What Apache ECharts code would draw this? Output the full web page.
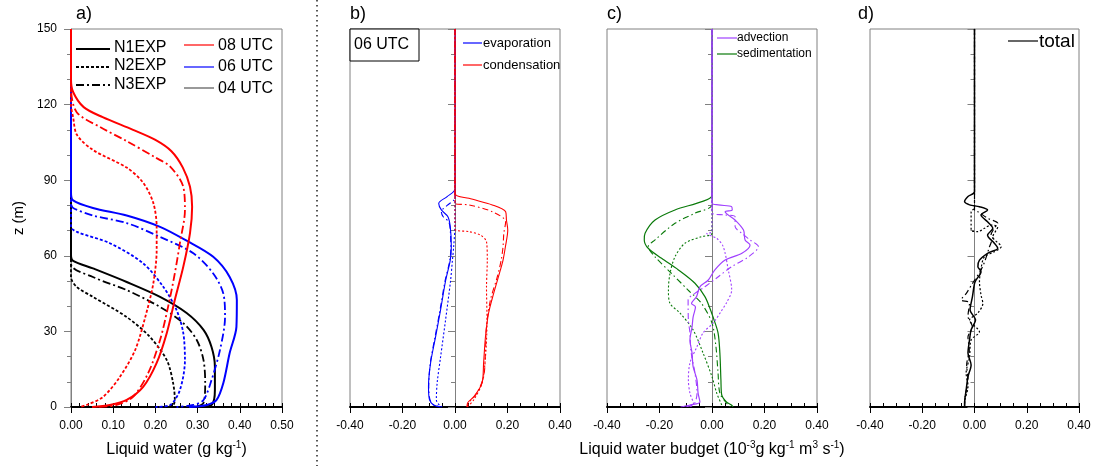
<!DOCTYPE html>
<html>
<head>
<meta charset="utf-8">
<script src="https://cdn.jsdelivr.net/npm/echarts@6/dist/echarts.min.js"></script>
<style>html,body{margin:0;padding:0;background:#fff}#c{width:1097px;height:466px}</style>
</head>
<body>
<div id="c"></div>
<script>
// ---------- DATA : [value, z(m)] ----------
// a) liquid water (g/kg)
const lw08N1 = [[0,150],[0,130],[0.005,125],[0.03,119],[0.075,115],[0.147,110],[0.20,106],[0.238,101.5],[0.265,95],[0.282,87.4],[0.287,79.5],[0.282,69],[0.266,55.6],[0.246,42.5],[0.227,29.4],[0.203,17.5],[0.171,8],[0.132,2.8],[0.092,0.8],[0.05,0]];
const lw08N2 = [[0,150],[0,120],[0.005,115],[0.014,108],[0.052,102],[0.132,95],[0.171,89],[0.195,81],[0.203,71.5],[0.203,62.3],[0.195,49],[0.176,35.7],[0.152,22.6],[0.116,12],[0.076,4],[0.037,0.8],[0.02,0]];
const lw08N3 = [[0,150],[0,127],[0.0135,117],[0.07,111],[0.132,105.5],[0.20,99],[0.235,95.4],[0.266,87.4],[0.270,78.2],[0.258,65],[0.246,53],[0.230,39.7],[0.211,26.6],[0.183,13.5],[0.147,4],[0.108,0.8],[0.06,0]];
const lw06N1 = [[0,150],[0,85],[0.005,82],[0.052,79],[0.132,76],[0.211,71.5],[0.274,66],[0.337,59.6],[0.376,51.6],[0.393,42.5],[0.392,31.8],[0.376,21.4],[0.361,9.5],[0.345,2.8],[0.322,0.8],[0.28,0]];
const lw06N2 = [[0,150],[0,71.5],[0.014,69.5],[0.092,65],[0.171,57],[0.219,47.6],[0.25,38.5],[0.266,29.4],[0.27,18.6],[0.258,6.7],[0.235,0.8],[0.2,0]];
const lw06N3 = [[0,150],[0,81],[0.005,79],[0.052,76],[0.132,73],[0.211,67.5],[0.29,61],[0.337,53],[0.361,45],[0.365,35.7],[0.353,22.6],[0.333,10.7],[0.314,2.8],[0.29,0.8],[0.25,0]];
const lw04N1 = [[0,150],[0,60.3],[0.005,58],[0.052,55],[0.132,49.6],[0.211,43.7],[0.274,37.3],[0.314,30.6],[0.333,23.8],[0.341,16],[0.341,6.7],[0.333,0.8],[0.30,0]];
const lw04N2 = [[0,150],[0,51.6],[0.014,47.6],[0.052,43.7],[0.132,35.7],[0.187,27.8],[0.227,18.6],[0.242,9.5],[0.246,2.8],[0.242,0.8],[0.22,0]];
const lw04N3 = [[0,150],[0,57],[0.052,51.6],[0.132,46.4],[0.211,39.7],[0.266,33.3],[0.298,26.6],[0.314,18.6],[0.318,9.5],[0.314,1.6],[0.29,0]];
// b) evaporation / condensation
const evN1 = [[0,150],[0,86.5],[-0.03,83.5],[-0.062,80.8],[-0.052,78.2],[-0.027,75.5],[-0.018,71.5],[-0.014,63.6],[-0.018,58.3],[-0.036,50],[-0.055,38.5],[-0.074,27.8],[-0.093,17.5],[-0.101,8],[-0.097,2.8],[-0.082,0.8],[-0.055,0]];
const evN2 = [[0,150],[0,73],[-0.005,63.6],[-0.01,58],[-0.017,50],[-0.036,34.5],[-0.055,19.8],[-0.068,9.5],[-0.071,2.8],[-0.06,0.8],[-0.049,0]];
const evN3 = [[0,150],[0,83],[-0.005,82],[-0.03,80],[-0.052,77.5],[-0.045,75.5],[-0.024,73.5],[-0.018,70.2],[-0.016,63],[-0.02,58],[-0.038,50],[-0.057,38.5],[-0.076,27.8],[-0.094,17.5],[-0.1,8],[-0.095,2.8],[-0.08,0.8],[-0.055,0]];
const coN1 = [[0,150],[0,84.8],[0.053,82.8],[0.142,80.2],[0.193,77.5],[0.196,74.2],[0.201,70.2],[0.192,63.6],[0.183,58.3],[0.173,54.4],[0.147,45],[0.128,37.3],[0.116,27.8],[0.109,17.5],[0.103,9.5],[0.071,4],[0.048,1.6],[0.046,0]];
const coN2 = [[0,150],[0,70.5],[0.053,69.6],[0.097,68.2],[0.12,65.6],[0.123,58.3],[0.120,47.6],[0.122,34.5],[0.116,19.8],[0.103,9.5],[0.071,2.8],[0.046,0]];
const coN3 = [[0,150],[0,80.8],[0.053,80.2],[0.142,77.5],[0.193,73.5],[0.186,68.9],[0.183,63.6],[0.176,58.3],[0.161,51.6],[0.135,42.5],[0.12,32],[0.116,22],[0.109,12],[0.08,5],[0.052,1.6],[0.046,0]];
// c) advection / sedimentation
const adN1 = [[0,150],[0,81],[0.024,80.2],[0.075,79.5],[0.077,78.2],[0.05,77.5],[0.088,74.2],[0.12,70.2],[0.126,66.3],[0.145,64.3],[0.114,61],[0.05,58.3],[0.011,54.4],[-0.014,50.4],[-0.046,47.7],[-0.059,43.8],[-0.078,41.1],[-0.063,39.7],[-0.072,35.7],[-0.076,31.8],[-0.084,26.6],[-0.076,21.4],[-0.072,16],[-0.057,10.7],[-0.053,5.5],[-0.046,2],[-0.084,0.8],[-0.12,0]];
const adN2 = [[0,150],[0,69.5],[-0.02,68.9],[0.018,66.9],[0.043,63.6],[0.062,54.4],[0.075,46.4],[0.056,41.5],[0.035,38],[0.004,33.3],[-0.034,29.4],[-0.057,24],[-0.084,17.5],[-0.09,10.7],[-0.084,5.5],[-0.07,1],[-0.09,0]];
const adN3 = [[0,150],[0,77],[0.05,76.2],[0.088,75.5],[0.088,71.6],[0.114,68.9],[0.145,66.3],[0.177,63.6],[0.139,59.6],[0.075,55.7],[0.024,51.7],[-0.027,47.7],[-0.065,45.1],[-0.091,42.5],[-0.09,34.5],[-0.084,29.4],[-0.08,22],[-0.065,13.5],[-0.057,5.5],[-0.07,1],[-0.11,0]];
const seN1 = [[0,150],[0,84],[-0.039,81.5],[-0.141,78.2],[-0.217,74.2],[-0.255,68.9],[-0.258,66.3],[-0.243,63],[-0.192,59],[-0.128,54.4],[-0.065,49.1],[-0.027,43.8],[-0.008,39.2],[0.004,35.7],[0.023,29.4],[0.03,21.4],[0.034,10.7],[0.037,4.8],[0.055,2],[0.074,0.8],[0.08,0]];
const seN2 = [[0,150],[0,69],[-0.04,67.6],[-0.103,65],[-0.141,59.6],[-0.16,53],[-0.166,46.4],[-0.16,41.1],[-0.122,37.3],[-0.072,30.6],[-0.034,21.4],[0,12],[0.018,5.5],[0.037,0.8],[0.04,0]];
const seN3 = [[0,150],[0,80.5],[-0.065,76.9],[-0.141,72.9],[-0.217,66.3],[-0.243,63.6],[-0.217,59.6],[-0.154,53],[-0.091,46.4],[-0.04,41.1],[0,33.3],[0.015,24],[0.023,13.5],[0.03,5.5],[0.055,1.6],[0.07,0]];
// d) total
const toN1 = [[0,150],[0,85.4],[-0.025,83.5],[-0.038,81.5],[-0.019,80.2],[0.019,79.5],[0.05,78.2],[0.025,76.2],[0.05,73.5],[0.07,70.9],[0.05,68.2],[0.076,65],[0.089,63],[0.05,61],[0.019,58.3],[0.013,55.7],[0.025,53.7],[0.006,50.4],[0,49],[-0.008,43.7],[-0.017,38.5],[0.004,34.5],[-0.013,30.6],[-0.019,26.6],[-0.025,21.4],[-0.013,16.7],[-0.025,12],[-0.032,6.7],[-0.038,1.6],[-0.038,0]];
const toN2 = [[0,150],[0,79],[-0.013,77.5],[-0.013,70.2],[0.013,69.6],[0.038,70.9],[0.063,72.2],[0.089,71.5],[0.07,67.5],[0.102,63.6],[0.076,61.6],[0.038,59.6],[0.025,55],[0.019,49.7],[0.025,44.4],[0.032,41.1],[0.013,37.3],[-0.019,34.5],[0.019,29.8],[-0.013,26.6],[-0.019,19.8],[-0.032,13.5],[-0.025,8],[-0.038,1.6],[-0.038,0]];
const toN3 = [[0,150],[0,78],[0.013,77.5],[0.05,74.9],[0.089,72.9],[0.076,71],[0.063,68.2],[0.07,67.5],[0.057,63.5],[0.04,58],[0.025,54.4],[-0.008,49],[-0.032,45],[-0.051,42.5],[-0.019,41.3],[-0.025,36],[-0.008,31.8],[-0.025,27.8],[-0.02,22.6],[-0.03,16.7],[-0.025,11],[-0.036,4],[-0.038,0]];

const xTicksA = [0, 0.5, 0.1, 0.02];    // min, max, major, minor
const xTicksB = [-0.4, 0.4, 0.2, 0.05];
const zTicks = [0, 150, 30];

// ---------- CHART ----------
const RED = '#ff0000', BLUE = '#0000ff', BLACK = '#000000', PURPLE = '#a040ff', GREEN = '#0a7a0a';
const GRAY = '#808080';
const FONT = 'Liberation Sans, Arial, sans-serif';
const DOT_A = [3, 2], DD_A = [8, 3, 2, 3];
const DOT_B = [2, 2], DD_B = [6, 3, 1.5, 3];

const grids = [
  {left: 71, top: 29, width: 211, height: 378},
  {left: 350, top: 29, width: 210, height: 378},
  {left: 607, top: 29, width: 210, height: 378},
  {left: 870, top: 29, width: 209, height: 378}
].map(g => Object.assign(g, {show: true, borderColor: GRAY, borderWidth: 1, backgroundColor: 'transparent', containLabel: false, outerBoundsMode: 'none'}));

function fmt(v) { return (Math.abs(v) < 1e-9 ? 0 : v).toFixed(2); }

const xAxes = [];
const minorX = [];
grids.forEach((g, i) => {
  const t = i === 0 ? xTicksA : xTicksB;
  const ax = {
    type: 'value', gridIndex: i, min: t[0], max: t[1], interval: t[2], position: 'bottom',
    axisLine: {show: true, onZero: false, lineStyle: {color: '#000', width: 2}},
    axisTick: {show: true, inside: false, length: 6, lineStyle: {color: '#000', width: 1}},
    axisLabel: {show: true, fontSize: 12, fontFamily: FONT, color: '#000', margin: 13, formatter: fmt},
    splitLine: {show: false}
  };
  if (i === 0) {
    ax.name = 'Liquid water (g kg{sup|-1})';
  }
  if (i === 2) {
    ax.name = 'Liquid water budget (10{sup|-3}g kg{sup|-1} m{sup|3} s{sup|-1})';
  }
  ax.nameLocation = 'middle';
  ax.nameGap = 33;
  ax.nameTextStyle = {fontSize: 16, fontFamily: FONT, color: '#000', lineHeight: 19,
    rich: {sup: {fontSize: 10, fontFamily: FONT, color: '#000', lineHeight: 10, verticalAlign: 'top'}}};
  xAxes.push(ax);
  minorX.push({
    type: 'value', gridIndex: i, min: t[0], max: t[1], interval: t[3], position: 'bottom',
    axisLine: {show: false}, axisTick: {show: true, inside: true, length: 4, lineStyle: {color: '#000'}},
    axisLabel: {show: false}, splitLine: {show: false}
  });
});

const yAxes = grids.map((g, i) => ({
  type: 'value', gridIndex: i, min: zTicks[0], max: zTicks[1], interval: zTicks[2],
  axisLine: {show: true, lineStyle: {color: GRAY, width: 1}},
  axisTick: {show: true, length: 7, lineStyle: {color: GRAY}},
  minorTick: {show: true, splitNumber: 3, length: 4, lineStyle: {color: GRAY}},
  axisLabel: {show: i === 0, fontSize: 12, fontFamily: FONT, color: '#000', margin: 14},
  splitLine: {show: false},
  name: i === 0 ? 'z (m)' : '', nameLocation: 'middle', nameGap: 45, nameRotate: 90,
  nameTextStyle: {fontSize: 15, fontFamily: FONT, color: '#000'}
}));

function S(data, color, dash, width, gi) {
  return {
    type: 'line', data: data, xAxisIndex: gi, yAxisIndex: gi, symbol: 'none', showSymbol: false,
    smooth: 0.3, animation: false, silent: true,
    lineStyle: {color: color, width: width, type: dash || 'solid', cap: 'butt', join: 'round'}
  };
}

const series = [
  S(lw04N2, BLACK, DOT_A, 1.8, 0), S(lw04N3, BLACK, DD_A, 1.8, 0), S(lw04N1, BLACK, null, 2, 0),
  S(lw06N2, BLUE, DOT_A, 1.8, 0), S(lw06N3, BLUE, DD_A, 1.8, 0), S(lw06N1, BLUE, null, 2, 0),
  S(lw08N2, RED, DOT_A, 1.8, 0), S(lw08N3, RED, DD_A, 1.8, 0), S(lw08N1, RED, null, 2, 0),
  S(evN2, BLUE, DOT_B, 1.1, 1), S(evN3, BLUE, DD_B, 1.1, 1), S(evN1, BLUE, null, 1.1, 1),
  S(coN2, RED, DOT_B, 1.1, 1), S(coN3, RED, DD_B, 1.1, 1), S(coN1, RED, null, 1.1, 1),
  S(seN2, GREEN, DOT_B, 1.1, 2), S(seN3, GREEN, DD_B, 1.1, 2), S(seN1, GREEN, null, 1.2, 2),
  S(adN2, PURPLE, DOT_B, 1.1, 2), S(adN3, PURPLE, DD_B, 1.1, 2), S(adN1, PURPLE, null, 1.2, 2),
  S(toN2, BLACK, DOT_B, 1.2, 3), S(toN3, BLACK, DD_B, 1.2, 3), S(toN1, BLACK, null, 1.5, 3)
];

function txt(x, y, s, size, extra) {
  return Object.assign({type: 'text', x: x, y: y, silent: true, z: 10,
    style: {text: s, fontSize: size, fontFamily: FONT, fill: '#000', textVerticalAlign: 'middle', verticalAlign: 'middle'}}, extra || {});
}
function seg(x1, x2, y, color, w, dash) {
  return {type: 'line', silent: true, z: 10, shape: {x1: x1, y1: y, x2: x2, y2: y},
    style: {stroke: color, lineWidth: w, lineDash: dash || null}};
}

const graphic = [
  // separator
  {type: 'line', silent: true, shape: {x1: 317, y1: 0, x2: 317, y2: 466}, style: {stroke: '#000', lineWidth: 1.3, lineDash: [1.5, 3.5]}},
  // panel labels
  txt(76, 14, 'a)', 18), txt(350, 14, 'b)', 18), txt(607, 14, 'c)', 18), txt(858, 14, 'd)', 18),
  // panel a legend
  seg(76, 110, 49, BLACK, 2), txt(114, 48, 'N1EXP', 16),
  seg(76, 110, 67, BLACK, 2, DOT_A), txt(114, 66, 'N2EXP', 16),
  seg(76, 110, 85, BLACK, 2, DD_A), txt(114, 85, 'N3EXP', 16),
  seg(184, 214, 45, RED, 1.2), txt(218, 46, '08 UTC', 16),
  seg(184, 214, 67, BLUE, 1.2), txt(218, 67, '06 UTC', 16),
  seg(184, 214, 88, '#555', 1.2), txt(218, 89, '04 UTC', 16),
  // panel b box + legend
  {type: 'rect', silent: true, z: 9, shape: {x: 350, y: 29, width: 69, height: 32}, style: {fill: '#fff', stroke: '#000', lineWidth: 1}},
  txt(354, 45, '06 UTC', 16),
  seg(463, 482, 43, BLUE, 1.2), txt(483, 43, 'evaporation', 13),
  seg(463, 482, 65, RED, 1.2), txt(483, 65, 'condensation', 13),
  // panel c legend
  seg(717, 737, 38, PURPLE, 1.2), txt(737, 38, 'advection', 12),
  seg(717, 737, 54, GREEN, 1.2), txt(737, 54, 'sedimentation', 12),
  // panel d legend
  seg(1008, 1038, 41, BLACK, 1.2), txt(1039, 42, 'total', 19)
];

const chart = echarts.init(document.getElementById('c'), null, {renderer: 'canvas', width: 1097, height: 466});
chart.setOption({
  backgroundColor: '#fff',
  animation: false,
  grid: grids,
  xAxis: xAxes.concat(minorX),
  yAxis: yAxes,
  series: series,
  graphic: graphic
});
</script>
</body>
</html>
